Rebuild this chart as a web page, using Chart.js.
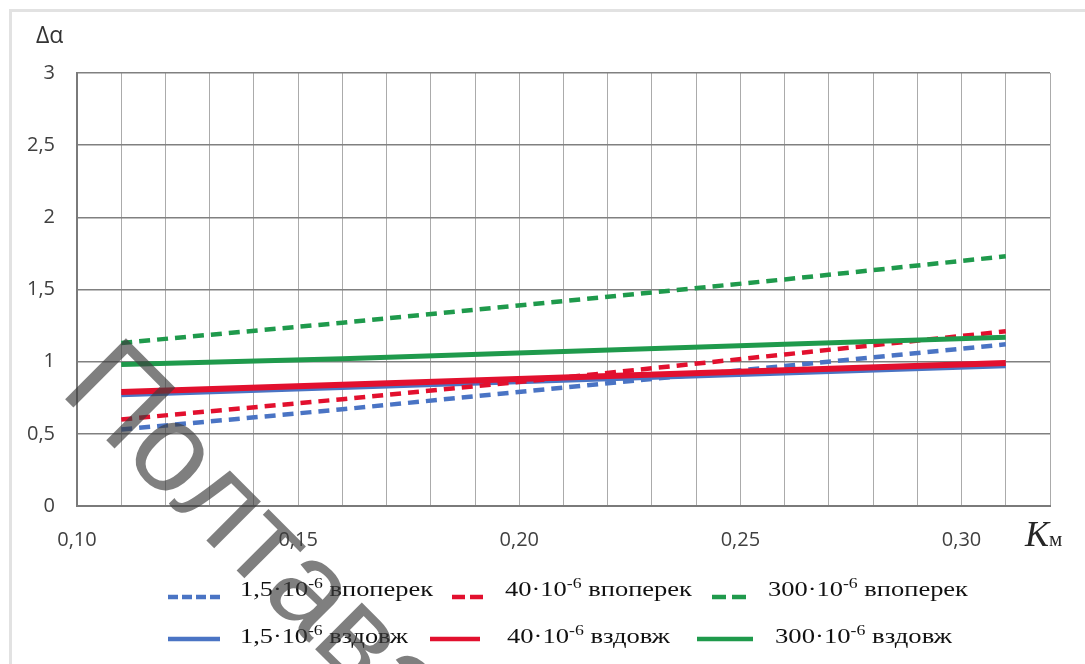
<!DOCTYPE html>
<html>
<head>
<meta charset="utf-8">
<script src="https://cdn.jsdelivr.net/npm/chart.js@4.4.1/dist/chart.umd.min.js"></script>
<style>
  html, body { margin: 0; padding: 0; background: #ffffff; }
  #wrap { position: relative; width: 1085px; height: 664px; overflow: hidden; }
  #chart { position: absolute; left: 0; top: 0; }
  #overlay { position: absolute; left: 0; top: 0; pointer-events: none; }
</style>
</head>
<body>
<div id="wrap">
  <canvas id="chart" width="1085" height="664"></canvas>
  <svg id="overlay" width="1085" height="664" xmlns="http://www.w3.org/2000/svg"></svg>
</div>
<script>
// ---- data ----
const xValues = [0.11, 0.16, 0.21, 0.26, 0.31];           // K_м
const blueAcross  = [0.53, 0.67, 0.82, 0.97, 1.12];       // 1,5·10^-6 впоперек
const redAcross   = [0.60, 0.74, 0.89, 1.05, 1.21];       // 40·10^-6 впоперек
const greenAcross = [1.13, 1.27, 1.42, 1.57, 1.73];       // 300·10^-6 впоперек
const blueAlong   = [0.775, 0.825, 0.875, 0.925, 0.975];  // 1,5·10^-6 вздовж
const redAlong    = [0.79, 0.84, 0.89, 0.94, 0.99];       // 40·10^-6 вздовж
const greenAlong  = [0.98, 1.02, 1.07, 1.12, 1.17];       // 300·10^-6 вздовж

const seriesNames = ['1,5·10⁻⁶ впоперек', '40·10⁻⁶ впоперек', '300·10⁻⁶ впоперек',
                     '1,5·10⁻⁶ вздовж', '40·10⁻⁶ вздовж', '300·10⁻⁶ вздовж'];
const xTickValues = [0.10, 0.15, 0.20, 0.25, 0.30];
const xTickLabels = ['0,10', '0,15', '0,20', '0,25', '0,30'];
const yTickValues = [0, 0.5, 1, 1.5, 2, 2.5, 3];
const yTickLabels = ['0', '0,5', '1', '1,5', '2', '2,5', '3'];

const BLUE = '#4a74c4', RED = '#e2102e', GREEN = '#1f9a4c';

function pts(ys) { return xValues.map((x, i) => ({ x: x, y: ys[i] })); }

const datasets = [
  { label: seriesNames[0], data: pts(blueAcross),  borderColor: BLUE,  borderWidth: 4.5, borderDash: [11, 7], order: 3 },
  { label: seriesNames[1], data: pts(redAcross),   borderColor: RED,   borderWidth: 4.5, borderDash: [11, 7], order: 2 },
  { label: seriesNames[2], data: pts(greenAcross), borderColor: GREEN, borderWidth: 4.5, borderDash: [11, 7], order: 2 },
  { label: seriesNames[3], data: pts(blueAlong),   borderColor: BLUE,  borderWidth: 6, order: 5 },
  { label: seriesNames[4], data: pts(redAlong),    borderColor: RED,   borderWidth: 6, order: 0 },
  { label: seriesNames[5], data: pts(greenAlong),  borderColor: GREEN, borderWidth: 5, order: 1 }
];
datasets.forEach(d => { d.pointRadius = 0; d.fill = false; d.tension = 0; d.borderCapStyle = 'butt'; });

function lookup(vals, labels, v) {
  for (let i = 0; i < vals.length; i++) if (Math.abs(vals[i] - v) < 1e-6) return labels[i];
  return '';
}

new Chart(document.getElementById('chart'), {
  type: 'line',
  data: { datasets: datasets },
  options: {
    responsive: false,
    animation: false,
    devicePixelRatio: 1,
    layout: { padding: { left: 0, right: 35, top: 73, bottom: 0 } },
    plugins: { legend: { display: false }, tooltip: { enabled: false } },
    scales: {
      x: {
        type: 'linear', min: 0.10, max: 0.32,
        ticks: {
          stepSize: 0.01, autoSkip: false, maxRotation: 0, padding: 22,
          color: '#404040', font: { family: 'Open Sans', size: 20 },
          callback: v => lookup(xTickValues, xTickLabels, v)
        },
        grid: { color: '#ababab', lineWidth: 1, drawTicks: false },
        border: { color: '#7a7a7a', width: 2 },
        afterFit: s => { s.height = 158; }
      },
      y: {
        min: 0, max: 3,
        ticks: {
          stepSize: 0.5, padding: 22,
          color: '#404040', font: { family: 'Open Sans', size: 20 },
          callback: v => lookup(yTickValues, yTickLabels, v)
        },
        grid: { color: '#808080', lineWidth: 1.6, drawTicks: false },
        border: { color: '#7a7a7a', width: 2 },
        afterFit: s => { s.width = 77; }
      }
    }
  }
});

// ---- overlay: frame, axis titles, legend, watermark ----
const NS = 'http://www.w3.org/2000/svg';
const svg = document.getElementById('overlay');
function el(tag, attrs, parent) {
  const e = document.createElementNS(NS, tag);
  for (const k in attrs) e.setAttribute(k, attrs[k]);
  (parent || svg).appendChild(e);
  return e;
}
// outer frame
el('path', { d: 'M10.5 700 L10.5 10.5 L1100 10.5', fill: 'none', stroke: '#e2e2e2', 'stroke-width': 3 });

// axis titles
const ya = el('text', { x: 36, y: 43, 'font-family': 'Open Sans', 'font-size': 23, fill: '#333333' });
ya.textContent = 'Δα';
const xa = el('text', { x: 1025, y: 546, 'font-family': 'Liberation Serif', fill: '#262626' });
const k1 = el('tspan', { 'font-size': 36, 'font-style': 'italic' }, xa); k1.textContent = 'K';
const k2 = el('tspan', { 'font-size': 21 }, xa); k2.textContent = 'м';

// legend
const legendItems = [
  { ds: 0, x1: 168, x2: 220, ly: 597, dash: '10 4', tx: 240, ty: 596, w: 193, num: '1,5', dir: 'впоперек' },
  { ds: 1, x1: 452, x2: 484, ly: 597, dash: '13 5', tx: 505, ty: 596, w: 187, num: '40',  dir: 'впоперек' },
  { ds: 2, x1: 712, x2: 747, ly: 597, dash: '14 6', tx: 768, ty: 596, w: 200, num: '300', dir: 'впоперек' },
  { ds: 3, x1: 168, x2: 220, ly: 639, dash: null,   tx: 240, ty: 643, w: 168, num: '1,5', dir: 'вздовж' },
  { ds: 4, x1: 430, x2: 480, ly: 639, dash: null,   tx: 507, ty: 643, w: 163, num: '40',  dir: 'вздовж' },
  { ds: 5, x1: 697, x2: 753, ly: 639, dash: null,   tx: 775, ty: 643, w: 177, num: '300', dir: 'вздовж' }
];
legendItems.forEach(it => {
  const d = datasets[it.ds];
  const a = { x1: it.x1, y1: it.ly, x2: it.x2, y2: it.ly, stroke: d.borderColor, 'stroke-width': 4.5 };
  if (it.dash) a['stroke-dasharray'] = it.dash;
  el('line', a);
  const t = el('text', { x: it.tx, y: it.ty, 'font-family': 'Liberation Serif', 'font-size': 21, fill: '#111111',
                         textLength: it.w, lengthAdjust: 'spacingAndGlyphs' });
  const t1 = el('tspan', {}, t); t1.textContent = it.num + '·10';
  const t2 = el('tspan', { dy: -8, 'font-size': 14 }, t); t2.textContent = '-6';
  const t3 = el('tspan', { dy: 8 }, t); t3.textContent = ' ' + it.dir;
});

// watermark
const wm = el('text', { x: 58, y: 392, transform: 'rotate(45 58 392)', 'font-family': 'Liberation Sans',
                        'font-size': 125, fill: 'rgba(60,60,60,0.66)' });
wm.textContent = 'Полтава';
</script>
</body>
</html>
